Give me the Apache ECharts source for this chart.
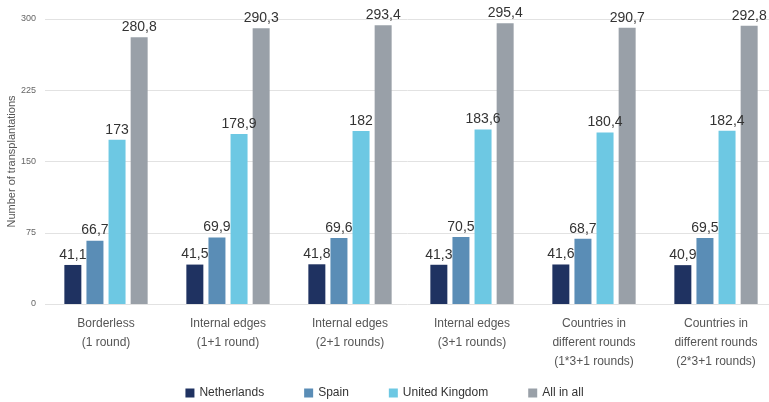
<!DOCTYPE html>
<html>
<head>
<meta charset="utf-8">
<script src="https://cdn.jsdelivr.net/npm/echarts@6/dist/echarts.min.js"></script>
<style>
  html, body { margin: 0; padding: 0; background: #fff; }
  #chart { width: 769px; height: 402px; }
</style>
</head>
<body>
<div id="chart"></div>
<script>
// Scenario categories along the x axis
var categories = [
  'Borderless\n(1 round)',
  'Internal edges\n(1+1 round)',
  'Internal edges\n(2+1 rounds)',
  'Internal edges\n(3+1 rounds)',
  'Countries in\ndifferent rounds\n(1*3+1 rounds)',
  'Countries in\ndifferent rounds\n(2*3+1 rounds)'
];

// Number of transplantations per scenario
var netherlands = [41.1, 41.5, 41.8, 41.3, 41.6, 40.9];
var spain = [66.7, 69.9, 69.6, 70.5, 68.7, 69.5];
var unitedKingdom = [173, 178.9, 182, 183.6, 180.4, 182.4];
var allInAll = [280.8, 290.3, 293.4, 295.4, 290.7, 292.8];

var yTicks = [0, 75, 150, 225, 300];

var FONT = '"Liberation Sans", Arial, sans-serif';

function makeSeries(name, data, color) {
  return {
    name: name,
    type: 'bar',
    data: data,
    barWidth: 17,
    barGap: '30%',
    itemStyle: { color: color },
    label: {
      show: true,
      position: 'top',
      distance: 3,
      color: '#333',
      fontFamily: FONT,
      fontSize: 14,
      formatter: function (p) { return String(p.value).replace('.', ','); }
    }
  };
}

var chart = echarts.init(document.getElementById('chart'));
chart.setOption({
  animation: false,
  textStyle: { fontFamily: FONT },
  grid: {
    left: 45, top: 19, width: 732, height: 285,
    containLabel: false,
    outerBoundsMode: 'none'
  },
  legend: {
    bottom: -2,
    left: 'center',
    itemWidth: 9,
    itemHeight: 9,
    itemGap: 40,
    icon: 'rect',
    textStyle: { color: '#333', fontSize: 12, fontFamily: FONT },
    data: ['Netherlands', 'Spain', 'United Kingdom', 'All in all']
  },
  xAxis: {
    type: 'category',
    data: categories,
    axisLine: { show: false },
    axisTick: { show: false },
    axisLabel: {
      color: '#555',
      fontSize: 12,
      lineHeight: 19,
      margin: 10,
      interval: 0,
      fontFamily: FONT
    }
  },
  yAxis: {
    type: 'value',
    min: yTicks[0],
    max: yTicks[yTicks.length - 1],
    interval: 75,
    name: 'Number of transplantations',
    nameLocation: 'middle',
    nameRotate: 90,
    nameGap: 28,
    nameMoveOverlap: false,
    nameTextStyle: { color: '#555', fontSize: 11, fontFamily: FONT },
    axisLine: { show: false },
    axisTick: { show: false },
    axisLabel: { color: '#666', fontSize: 9, margin: 9, fontFamily: FONT },
    splitLine: { lineStyle: { color: '#e2e2e2', width: 1 } }
  },
  series: [
    makeSeries('Netherlands', netherlands, '#1f3261'),
    makeSeries('Spain', spain, '#5a8db6'),
    makeSeries('United Kingdom', unitedKingdom, '#6dc8e3'),
    makeSeries('All in all', allInAll, '#99a0a8')
  ]
});
</script>
</body>
</html>
